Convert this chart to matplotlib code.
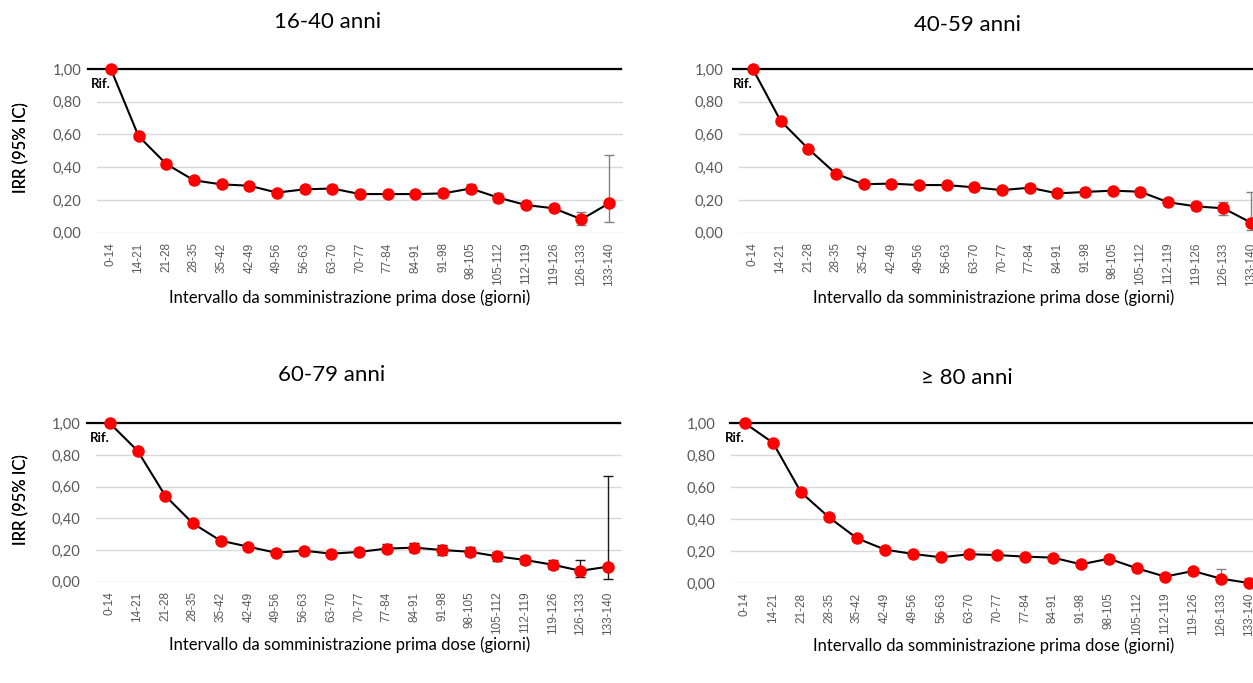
import matplotlib
matplotlib.use("Agg")
import matplotlib.pyplot as plt
from matplotlib.ticker import FuncFormatter

# ---------------- data ----------------
categories = ["0-14", "14-21", "21-28", "28-35", "35-42", "42-49", "49-56", "56-63",
              "63-70", "70-77", "77-84", "84-91", "91-98", "98-105", "105-112",
              "112-119", "119-126", "126-133", "133-140"]

titles = ["16-40 anni", "40-59 anni", "60-79 anni", "\u2265 80 anni"]

irr_16_40 = [1.00, 0.59, 0.42, 0.32, 0.295, 0.287, 0.245, 0.265, 0.27, 0.236,
             0.236, 0.236, 0.24, 0.27, 0.214, 0.169, 0.149, 0.082, 0.18]
lo_16_40 = [1.00, 0.57, 0.40, 0.30, 0.28, 0.27, 0.23, 0.25, 0.25, 0.22,
            0.22, 0.22, 0.22, 0.24, 0.19, 0.15, 0.13, 0.05, 0.067]
hi_16_40 = [1.00, 0.61, 0.44, 0.34, 0.31, 0.30, 0.26, 0.28, 0.29, 0.25,
            0.25, 0.25, 0.26, 0.30, 0.24, 0.19, 0.17, 0.125, 0.475]

irr_40_59 = [1.00, 0.684, 0.513, 0.36, 0.296, 0.30, 0.291, 0.291, 0.277, 0.26,
             0.275, 0.24, 0.249, 0.257, 0.25, 0.186, 0.161, 0.149, 0.061]
lo_40_59 = [1.00, 0.67, 0.50, 0.35, 0.285, 0.29, 0.28, 0.28, 0.265, 0.245,
            0.26, 0.225, 0.235, 0.24, 0.235, 0.17, 0.14, 0.11, 0.016]
hi_40_59 = [1.00, 0.70, 0.525, 0.37, 0.31, 0.31, 0.30, 0.30, 0.29, 0.275,
            0.29, 0.255, 0.265, 0.275, 0.27, 0.205, 0.185, 0.19, 0.247]

irr_60_79 = [1.00, 0.827, 0.543, 0.368, 0.259, 0.221, 0.183, 0.196, 0.177, 0.188,
             0.209, 0.215, 0.20, 0.189, 0.16, 0.137, 0.107, 0.069, 0.095]
lo_60_79 = [1.00, 0.81, 0.53, 0.355, 0.245, 0.207, 0.168, 0.18, 0.161, 0.17,
            0.185, 0.187, 0.17, 0.16, 0.133, 0.11, 0.08, 0.03, 0.015]
hi_60_79 = [1.00, 0.84, 0.555, 0.38, 0.27, 0.235, 0.198, 0.212, 0.193, 0.205,
            0.235, 0.245, 0.232, 0.222, 0.19, 0.165, 0.14, 0.137, 0.667]

irr_80 = [1.00, 0.878, 0.568, 0.411, 0.28, 0.209, 0.182, 0.161, 0.18, 0.175,
          0.165, 0.159, 0.117, 0.152, 0.092, 0.04, 0.075, 0.027, 0.0]
lo_80 = [1.00, 0.865, 0.555, 0.40, 0.27, 0.198, 0.171, 0.15, 0.168, 0.163,
         0.152, 0.146, 0.104, 0.136, 0.077, 0.025, 0.055, 0.008, 0.0]
hi_80 = [1.00, 0.89, 0.58, 0.42, 0.29, 0.22, 0.193, 0.172, 0.192, 0.187,
         0.178, 0.172, 0.13, 0.168, 0.107, 0.055, 0.095, 0.086, 0.03]

yticks = [0.0, 0.2, 0.4, 0.6, 0.8, 1.0]
ylabel = "IRR (95% IC)"
xlabel = "Intervallo da somministrazione prima dose (giorni)"
ref_label = "Rif."

series = [(irr_16_40, lo_16_40, hi_16_40),
          (irr_40_59, lo_40_59, hi_40_59),
          (irr_60_79, lo_60_79, hi_60_79),
          (irr_80, lo_80, hi_80)]

# ---------------- layout (pixel boxes: left, right, top, bottom) ----------------
W, H = 1253, 683
boxes = [(97, 623, 69, 232.7), (739, 1265, 69, 232.7),
         (96, 622, 423.3, 581.7), (731, 1263, 423.3, 583)]
title_xy = [(328, 22), (968, 25), (332, 375), (967, 378)]
xlabel_cx = [350, 994, 350, 994]
xlabel_top = [289, 289, 636, 637]
ylabel_x = 29
ref_line_start = [-0.017, -0.012, -0.017, -0.002]
err_colors = ["#808080", "#808080", "#1a1a1a", "#808080"]

fig = plt.figure(figsize=(W / 100, H / 100), dpi=100)
fig.patch.set_facecolor("white")

fam = ["Lato", "DejaVu Sans"]
x = list(range(len(categories)))

for i, (vals, lo, hi) in enumerate(series):
    l, r, t, b = boxes[i]
    ax = fig.add_axes([l / W, (H - b) / H, (r - l) / W, (b - t) / H])
    ax.set_xlim(-0.5, len(categories) - 0.5)
    ax.set_ylim(0, 1.0)
    for s in ax.spines.values():
        s.set_visible(False)
    ax.set_yticks(yticks)
    ax.yaxis.set_major_formatter(FuncFormatter(lambda v, p: f"{v:.2f}".replace(".", ",")))
    ax.grid(axis="y", color="#d9d9d9", lw=1.0, zorder=0)
    ax.set_axisbelow(True)
    ax.tick_params(axis="both", length=0)
    ax.tick_params(axis="y", pad=11, labelsize=10.5, labelcolor="#595959")
    ax.tick_params(axis="x", pad=7, labelsize=8.5, labelcolor="#595959")
    ax.set_xticks(x)
    ax.set_xticklabels(categories, rotation=90, family="Liberation Sans")
    for lab in ax.get_yticklabels():
        lab.set_family(fam)

    # reference line at 1
    ax.axhline(1.0, xmin=ref_line_start[i], xmax=0.996, color="black", lw=1.6,
               clip_on=False, zorder=2)

    yerr = [[v - a for v, a in zip(vals, lo)], [c - v for v, c in zip(vals, hi)]]
    ax.errorbar(x, vals, yerr=yerr, fmt="none", ecolor=err_colors[i], elinewidth=1.0,
                capsize=3.3, capthick=1.0, zorder=3, clip_on=False)
    ax.plot(x, vals, color="black", lw=1.5, zorder=4, clip_on=False)
    ax.plot(x, vals, linestyle="none", marker="o", markersize=9, color="#ff0000",
            markeredgewidth=0, zorder=5, clip_on=False)

    ax.annotate(ref_label, xy=(x[0], vals[0]), xytext=(0, -6.5), textcoords="offset points",
                ha="right", va="top", fontsize=9.5, fontweight="bold", family=fam,
                color="black", zorder=6)

    # labels
    ax.set_ylabel(ylabel, fontsize=12, family=fam, color="black")
    ax.yaxis.set_label_coords(-(l - ylabel_x) / (r - l), 0.52)
    ax.set_xlabel(xlabel, fontsize=12, family=fam, color="black", va="top")
    ax.xaxis.set_label_coords((xlabel_cx[i] - l) / (r - l), -(xlabel_top[i] - b) / (b - t))

    tx, ty = title_xy[i]
    ax.text((tx - l) / (r - l), (b - ty) / (b - t), titles[i], transform=ax.transAxes,
            ha="center", va="center", fontsize=16, family=fam, color="black")

fig.savefig("out.png", dpi=100)
